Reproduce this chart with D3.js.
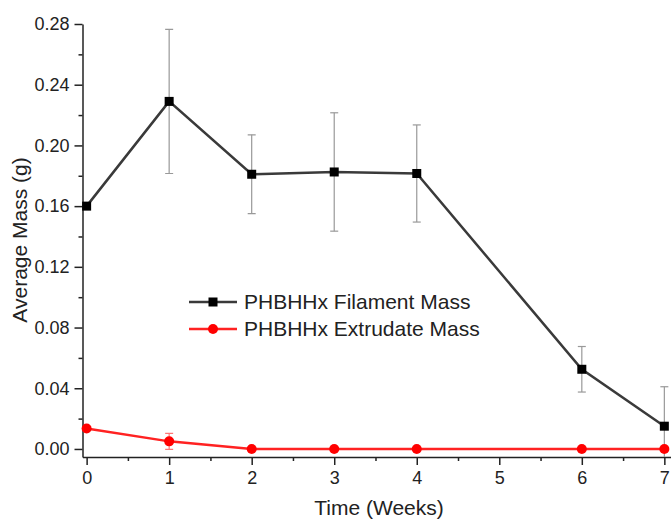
<!DOCTYPE html>
<html>
<head>
<meta charset="utf-8">
<script src="https://cdn.jsdelivr.net/npm/d3@7"></script>
<style>
body { margin: 0; background: #fff; }
svg { font-family: 'Liberation Sans', Arial, sans-serif; }
.axis path, .axis line { stroke: #222; stroke-width: 1.5; }
.axis text { font-size: 18px; fill: #222; }
</style>
</head>
<body>
<div id="content"></div>
<script>
// values
const WEEKS = [0, 1, 2, 3, 4, 6, 7];
const FILAMENT_MASS = [0.160, 0.229, 0.181, 0.1825, 0.1815, 0.0525, 0.0150];
const FILAMENT_ERR = [0, 0.0475, 0.026, 0.039, 0.032, 0.015, 0.026];
const EXTRUDATE_MASS = [0.0135, 0.0050, 0, 0, 0, 0, 0];
const EXTRUDATE_ERR = [0, 0.0053, 0, 0, 0, 0, 0];
const X_TICKS = [0, 1, 2, 3, 4, 5, 6, 7];
const Y_TICKS = [0, 0.04, 0.08, 0.12, 0.16, 0.20, 0.24, 0.28];
const SERIES_NAMES = ['PHBHHx Filament Mass', 'PHBHHx Extrudate Mass'];

var width = 671;
var height = 519;

var svg = d3.select('#content')
.append('svg')
.attr('width', width)
.attr('height', height);

var xScale = d3.scaleLinear()
.domain([-0.05, 7.1])
.range([82.5, 672.6]);

var yScale = d3.scaleLinear()
.domain([-0.0053, 0.28])
.range([457, 24]);

svg.append('defs')
.append('clipPath')
.attr('id', 'plot-clip')
.append('rect')
.attr('x', 82.5)
.attr('y', 0)
.attr('width', width - 82.5)
.attr('height', 457);

// minor ticks first, major axes on top
svg.append('g')
.attr('class', 'axis')
.attr('transform', 'translate(0, 457)')
.call(d3.axisBottom(xScale).tickValues(d3.range(0.5, 7.5, 1)).tickSize(4).tickFormat(''))
.call(g => g.select('.domain').remove());

svg.append('g')
.attr('class', 'axis')
.attr('transform', 'translate(82.5, 0)')
.call(d3.axisLeft(yScale).tickValues(d3.range(0.02, 0.28, 0.04)).tickSize(4).tickFormat(''))
.call(g => g.select('.domain').remove());

svg.append('g')
.attr('class', 'axis x-axis')
.attr('transform', 'translate(0, 457)')
.call(d3.axisBottom(xScale).tickValues(X_TICKS).tickSize(8).tickSizeOuter(0).tickPadding(6).tickFormat(d3.format('d')));

svg.append('g')
.attr('class', 'axis y-axis')
.attr('transform', 'translate(82.5, 0)')
.call(d3.axisLeft(yScale).tickValues(Y_TICKS).tickSize(8).tickSizeOuter(0).tickPadding(5).tickFormat(d3.format('.2f')));

svg.append('text')
.attr('x', 379)
.attr('y', 515)
.attr('text-anchor', 'middle')
.style('font-size', '21px')
.style('fill', '#222')
.text('Time (Weeks)');

svg.append('text')
.attr('transform', 'translate(27, 240) rotate(-90)')
.attr('text-anchor', 'middle')
.style('font-size', '21px')
.style('fill', '#222')
.text('Average Mass (g)');

function drawSeries(values, errors, lineColor, errColor, marker) {
    var pts = WEEKS.map(function (w, i) {return {x: w, y: values[i], e: errors[i]}});
    var g = svg.append('g').attr('clip-path', 'url(#plot-clip)');

    var bars = g.selectAll('.err')
    .data(pts.filter(function (p) {return p.e > 0}))
    .enter()
    .append('g')
    .attr('class', 'err')
    .attr('stroke', errColor)
    .attr('stroke-width', 1.2);
    bars.append('line')
    .attr('x1', function (p) {return xScale(p.x)})
    .attr('x2', function (p) {return xScale(p.x)})
    .attr('y1', function (p) {return yScale(p.y + p.e)})
    .attr('y2', function (p) {return yScale(p.y - p.e)});
    bars.append('line')
    .attr('x1', function (p) {return xScale(p.x) - 4})
    .attr('x2', function (p) {return xScale(p.x) + 4})
    .attr('y1', function (p) {return yScale(p.y + p.e)})
    .attr('y2', function (p) {return yScale(p.y + p.e)});
    bars.append('line')
    .attr('x1', function (p) {return xScale(p.x) - 4})
    .attr('x2', function (p) {return xScale(p.x) + 4})
    .attr('y1', function (p) {return yScale(p.y - p.e)})
    .attr('y2', function (p) {return yScale(p.y - p.e)});

    g.append('path')
    .datum(pts)
    .attr('fill', 'none')
    .attr('stroke', lineColor)
    .attr('stroke-width', 2.5)
    .attr('d', d3.line().x(function (p) {return xScale(p.x)}).y(function (p) {return yScale(p.y)}));

    var mg = svg.append('g');
    pts.forEach(function (p) {
        marker(mg, xScale(p.x), yScale(p.y));
    });
}

function squareMarker(g, x, y) {
    g.append('rect')
    .attr('x', x - 4.5)
    .attr('y', y - 4.5)
    .attr('width', 9)
    .attr('height', 9)
    .attr('fill', '#000');
}

function circleMarker(g, x, y) {
    g.append('circle')
    .attr('cx', x)
    .attr('cy', y)
    .attr('r', 5)
    .attr('fill', '#f00');
}

drawSeries(FILAMENT_MASS, FILAMENT_ERR, '#3a3a3a', '#999', squareMarker);
drawSeries(EXTRUDATE_MASS, EXTRUDATE_ERR, '#f22', '#f77', circleMarker);

// legend
var legend = svg.append('g').attr('class', 'legend');
var legendRows = [
    {name: SERIES_NAMES[0], color: '#3a3a3a', marker: squareMarker},
    {name: SERIES_NAMES[1], color: '#f22', marker: circleMarker}
];
legendRows.forEach(function (r, i) {
    var y = 302 + i * 27;
    legend.append('line')
    .attr('x1', 189)
    .attr('x2', 237)
    .attr('y1', y)
    .attr('y2', y)
    .attr('stroke', r.color)
    .attr('stroke-width', 2.5);
    r.marker(legend, 213, y);
    legend.append('text')
    .attr('x', 244)
    .attr('y', y)
    .attr('dy', '0.35em')
    .style('font-size', '21px')
    .style('fill', '#222')
    .text(r.name);
});
</script>
</body>
</html>
